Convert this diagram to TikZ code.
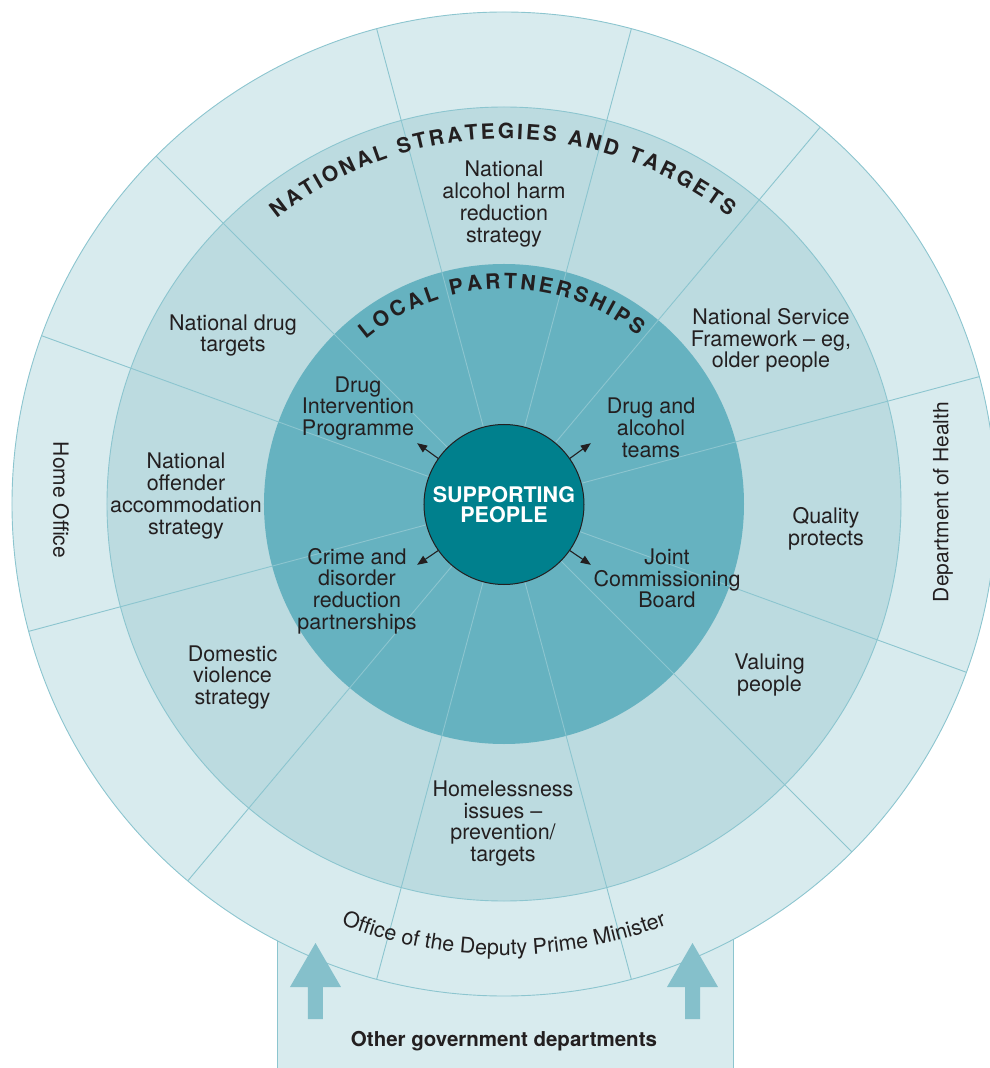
\documentclass[tikz,border=0pt]{standalone}
\usepackage{fontspec}
\setmainfont{TeX Gyre Heros}
\usetikzlibrary{arrows.meta,decorations.text}

\definecolor{ringout}{HTML}{D8EBEE}
\definecolor{ringnat}{HTML}{BCDBE0}
\definecolor{ringloc}{HTML}{66B2C0}
\definecolor{corefill}{HTML}{00808D}
\definecolor{rule}{HTML}{8CC5CF}
\definecolor{blockarrow}{HTML}{85C0CB}
\definecolor{ink}{HTML}{231F20}

\newcommand\lblfont{\fontsize{21.5}{21.7}\selectfont}
\newcommand\ttlfont{\fontsize{21}{21}\selectfont\bfseries}

\begin{document}
\begin{tikzpicture}[x=1pt,y=1pt,
  divider/.style={draw=rule, line width=0.9pt},
  lbl/.style={align=center, inner sep=0pt, text=ink, font=\lblfont},
  dept/.style={inner sep=0pt, text=ink, font=\fontsize{21}{21}\selectfont},
  corenode/.style={circle, minimum size=160pt, inner sep=0pt, fill=corefill,
    draw=ink, line width=1pt, text=white, align=center,
    font=\fontsize{21.5}{20.5}\selectfont\bfseries},
  outarrow/.style={draw=ink, line width=1.1pt, -{Triangle[length=10pt,width=8pt]}},
  bigarrow/.style={fill=blockarrow},
]
\useasboundingbox (-504,-564) rectangle (486,504);

% box of the other departments, partly hidden behind the rings
\fill[ringout] (-227,-564) rectangle (229,-300);
\draw[divider] (-227,-564) -- (-227,-300) (229,-300) -- (229,-564);

% the three rings
\fill[ringout] (0,0) circle[radius=492];
\fill[ringnat] (0,0) circle[radius=397];
\fill[ringloc] (0,0) circle[radius=240];
\foreach \a in {15,50,75,105,135,160,195,230,255,285,315,340}
  \draw[divider] (\a:80) -- (\a:492);
\draw[divider] (0,0) circle[radius=492];
\draw[divider] (0,0) circle[radius=397];

% block arrows rising from the box
\foreach \cx in {-188.5,188.5}
  \fill[bigarrow] (\cx,-439) -- ++(25.5,-44) -- ++(-18,0) -- ++(0,-32)
    -- ++(-15,0) -- ++(0,32) -- ++(-18,0) -- cycle;

% centre
\node[corenode] (sp) at (0,-0.5) {SUPPORTING\\PEOPLE};
\coordinate (tipNW) at (145:106);
\coordinate (tipNE) at (35:106);
\coordinate (tipSW) at (215:106);
\coordinate (tipSE) at (325:106);
\draw[outarrow] (sp.145) -- (tipNW);
\draw[outarrow] (sp.35) -- (tipNE);
\draw[outarrow] (sp.215) -- (tipSW);
\draw[outarrow] (sp.325) -- (tipSE);

% curved headings
\path[decorate, decoration={text along path,
    text={|\ttlfont\color{ink}|NATIONAL STRATEGIES AND TARGETS},
    text align={fit to path}}]
  (128.5:365) arc[start angle=128.5, end angle=52, radius=365];
\path[decorate, decoration={text along path,
    text={|\ttlfont\color{ink}|LOCAL PARTNERSHIPS},
    text align={fit to path}}]
  (130:215) arc[start angle=130, end angle=51.5, radius=215];
\path[decorate, decoration={text along path,
    text={|\lblfont\color{ink}|Office of the Deputy Prime Minister},
    text align=center}]
  (240:451) arc[start angle=240, end angle=300, radius=451];

% local partnerships
\node[lbl] (dip) at (-146,95.5) {Drug\\Intervention\\Programme};
\node[lbl] (dat) at (147,76) {Drug and\\alcohol\\teams};
\node[lbl] (cdrp) at (-147,-87) {Crime and\\disorder\\reduction\\partnerships};
\node[lbl] (jcb) at (163,-74.5) {Joint\\Commissioning\\Board};

% national strategies and targets
\node[lbl] (alc) at (0,300) {National\\alcohol harm\\reduction\\strategy};
\node[lbl] (ndt) at (-271,168.5) {National drug\\targets};
\node[lbl] (nsf) at (267,163.5) {National Service\\Framework – eg,\\older people};
\node[lbl] (noas) at (-318,8) {National\\offender\\accommodation\\strategy};
\node[lbl] (qp) at (322,-25) {Quality\\protects};
\node[lbl] (dvs) at (-271.5,-173.5) {Domestic\\violence\\strategy};
\node[lbl] (vp) at (265.5,-171) {Valuing\\people};
\node[lbl] (hls) at (-1,-319.5) {Homelessness\\issues –\\prevention/\\targets};

% departments
\node[dept, rotate=-90] (ho) at (-443,4) {Home Office};
\node[dept, rotate=90] (doh) at (439,2) {Department of Health};
\node[lbl, font=\fontsize{20.5}{20.5}\selectfont\bfseries] (ogd) at (0,-537)
  {Other government departments};
\end{tikzpicture}
\end{document}
